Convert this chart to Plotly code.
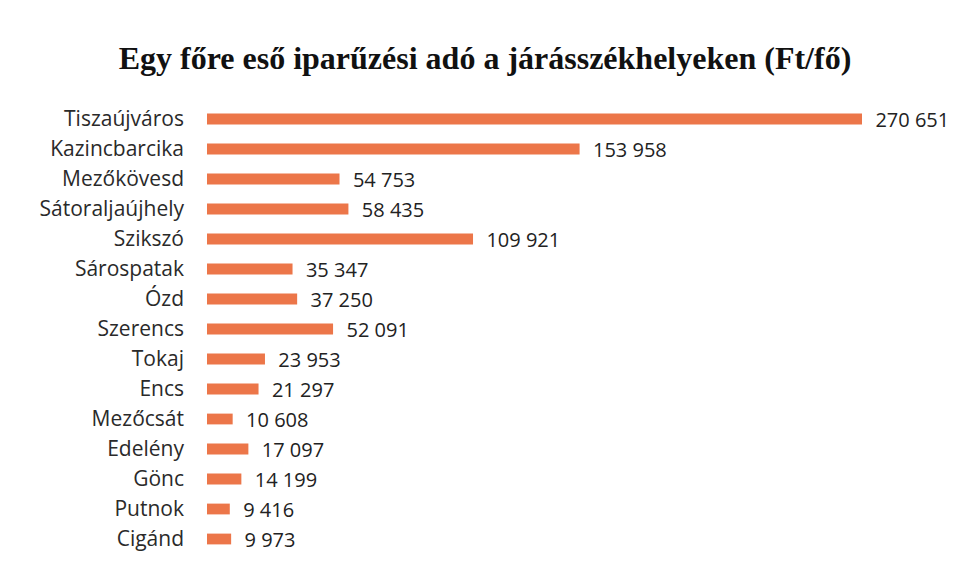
import plotly.graph_objs as go

# data
cities = [
    "Tiszaújváros", "Kazincbarcika", "Mezőkövesd", "Sátoraljaújhely", "Szikszó",
    "Sárospatak", "Ózd", "Szerencs", "Tokaj", "Encs",
    "Mezőcsát", "Edelény", "Gönc", "Putnok", "Cigánd",
]
tax_per_head = [
    270651, 153958, 54753, 58435, 109921,
    35347, 37250, 52091, 23953, 21297,
    10608, 17097, 14199, 9416, 9973,
]

bar_color = "#EC7649"

fig = go.Figure(
    go.Bar(
        x=tax_per_head,
        y=cities,
        orientation="h",
        marker=dict(color=bar_color, line=dict(width=0)),
        width=0.36,
        texttemplate="  %{x:,}",
        textposition="outside",
        constraintext="none",
        cliponaxis=False,
        textfont=dict(family="Open Sans", size=20, color="#222222"),
    )
)

fig.update_layout(
    title=dict(
        text="<b>Egy főre eső iparűzési adó a járásszékhelyeken (Ft/fő)</b>",
        x=0.5,
        xanchor="center",
        y=0.912,
        yanchor="middle",
        font=dict(family="Liberation Serif", size=32, color="#111111"),
    ),
    separators=", ",
    width=954,
    height=569,
    margin=dict(l=199, r=100, t=96, b=23, autoexpand=False),
    paper_bgcolor="white",
    plot_bgcolor="white",
    showlegend=False,
    xaxis=dict(range=[0, 270651], visible=False, fixedrange=True, automargin=False),
    yaxis=dict(
        autorange="reversed",
        automargin=False,
        showgrid=False,
        showline=False,
        ticks="",
        ticklabelstandoff=22,
        tickfont=dict(family="Open Sans", size=21, color="#2a2a2a"),
    ),
)

fig.write_html("out.html")
